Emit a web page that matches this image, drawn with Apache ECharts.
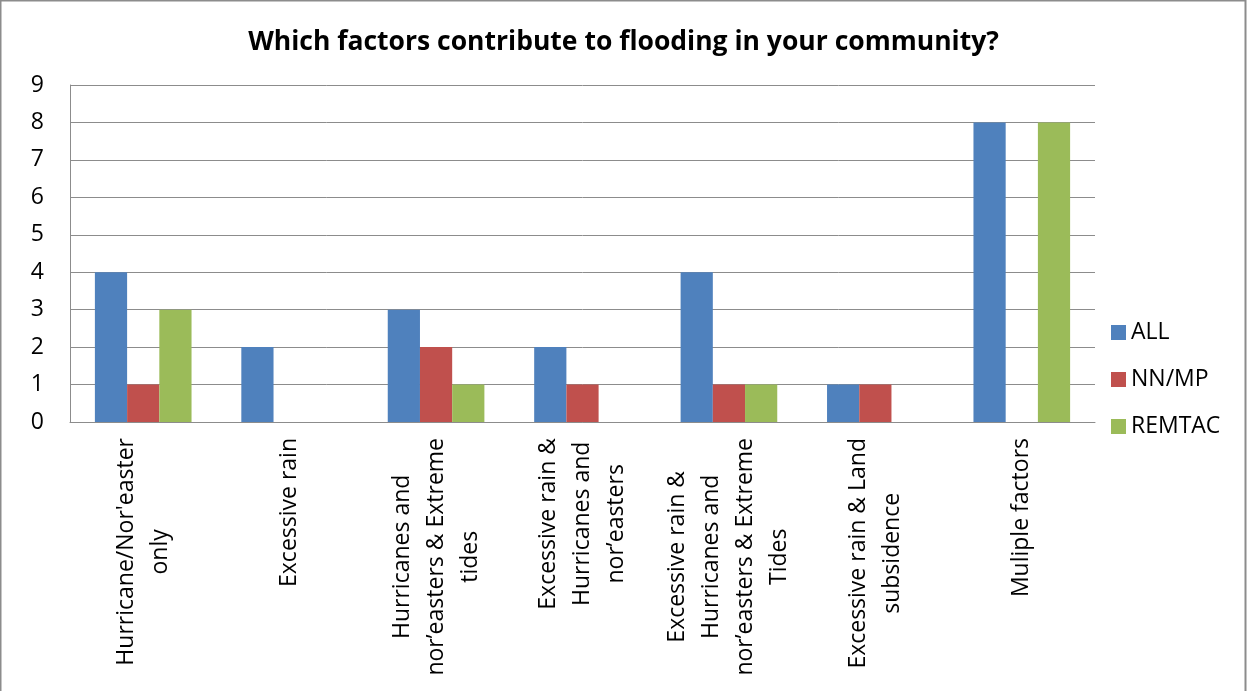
<!DOCTYPE html>
<html>
<head>
<meta charset="utf-8">
<script src="https://cdn.jsdelivr.net/npm/echarts@6/dist/echarts.min.js"></script>
<style>
  html, body { margin: 0; padding: 0; background: #fff; }
  #chart { width: 1247px; height: 691px; }
</style>
</head>
<body>
<div id="chart"></div>
<script>
// 数据
const categories = [
    'Hurricane/Nor\'easter\nonly',
    'Excessive rain',
    'Hurricanes and\nnor\u2019easters & Extreme\ntides',
    'Excessive rain &\nHurricanes and\nnor\u2019easters',
    'Excessive rain &\nHurricanes and\nnor\u2019easters & Extreme\nTides',
    'Excessive rain & Land\nsubsidence',
    'Muliple factors'
]
const allData = [4, 2, 3, 2, 4, 1, 8]
const nnmpData = [1, 0, 2, 1, 1, 1, 0]
const remtacData = [3, 0, 1, 0, 1, 0, 8]
const yTicks = [0, 9, 1] // min, max, interval

const chart = echarts.init(document.getElementById('chart'))
const font = '"Open Sans", "Liberation Sans", sans-serif'

const option = {
    animation: false,
    textStyle: { fontFamily: font },
    title: {
        text: 'Which factors contribute to flooding in your community?',
        left: 'center',
        top: 24,
        textStyle: { fontSize: 26.5, fontWeight: 'bold', color: '#000', fontFamily: font }
    },
    legend: {
        orient: 'vertical',
        left: 1106,
        top: 316,
        itemWidth: 15,
        itemHeight: 15,
        itemGap: 24,
        icon: 'rect',
        textStyle: { fontSize: 23, color: '#000', fontFamily: font },
        data: ['ALL', 'NN/MP', 'REMTAC']
    },
    grid: {
        left: 70,
        right: 152,
        top: 85,
        bottom: 269
    },
    xAxis: {
        type: 'category',
        data: categories,
        axisLine: { lineStyle: { color: '#8c8c8c', width: 1 } },
        axisTick: { show: false },
        axisLabel: {
            interval: 0,
            rotate: 90,
            margin: 16,
            color: '#000',
            formatter: v => v.split('\n').map(l => '{c|' + l + '}').join('\n'),
            rich: {
                c: { align: 'center', fontSize: 23, lineHeight: 34, color: '#000', fontFamily: font }
            }
        }
    },
    yAxis: {
        type: 'value',
        min: yTicks[0],
        max: yTicks[1],
        interval: yTicks[2],
        axisLine: { show: true, lineStyle: { color: '#8c8c8c', width: 1 } },
        axisTick: { show: false },
        splitLine: { lineStyle: { color: '#8c8c8c', width: 1 } },
        axisLabel: { fontSize: 23, color: '#000', margin: 26, fontFamily: font }
    },
    series: [
        {
            name: 'ALL',
            type: 'bar',
            data: allData,
            barGap: '0%',
            barCategoryGap: '34%',
            itemStyle: { color: '#4F81BD' }
        },
        {
            name: 'NN/MP',
            type: 'bar',
            data: nnmpData,
            itemStyle: { color: '#C0504D' }
        },
        {
            name: 'REMTAC',
            type: 'bar',
            data: remtacData,
            itemStyle: { color: '#9BBB59' }
        }
    ],
    graphic: [
        {
            type: 'rect',
            shape: { x: 0.5, y: 0.5, width: 1245, height: 700 },
            style: { fill: 'none', stroke: '#8c8c8c', lineWidth: 2 },
            silent: true
        }
    ]
}

chart.setOption(option)

window.addEventListener('resize', () => {
    chart.resize()
})
</script>
</body>
</html>
